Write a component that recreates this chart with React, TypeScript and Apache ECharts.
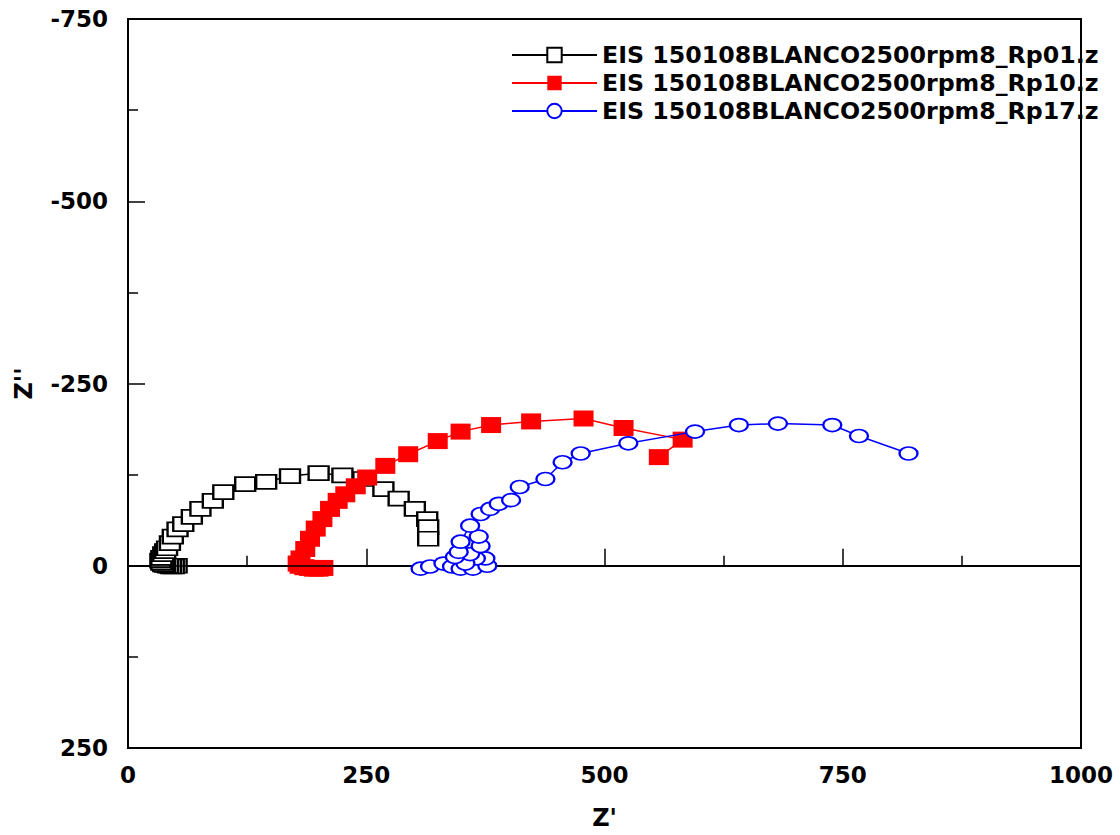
import React, { useEffect, useRef } from "react";
import * as echarts from "echarts";

const seriesNames = [
  "EIS 150108BLANCO2500rpm8_Rp01.z",
  "EIS 150108BLANCO2500rpm8_Rp10.z",
  "EIS 150108BLANCO2500rpm8_Rp17.z",
];

// [Z', Z''] pairs
const rp01: number[][] = [
  [51, 0], [48, 1], [45, 1], [42, 0], [39, -1], [37, -2], [35, -4], [34, -7], [35, -11],
  [37, -16], [39, -20], [41, -24], [44, -31], [47, -40], [52, -50], [58, -57], [67, -67],
  [76, -78], [89, -89], [100, -101], [123, -112], [145, -115], [170, -123], [200, -127],
  [225, -124], [247, -119], [268, -105], [284, -92], [301, -78], [314, -64], [315, -53],
  [315, -37],
];

const rp10: number[][] = [
  [205, 3], [200, 4], [195, 4], [190, 3], [185, 2], [180, 0], [178, -3], [181, -10],
  [186, -23], [191, -37], [197, -51], [204, -64], [212, -78], [220, -89], [228, -98],
  [239, -109], [251, -121], [270, -137], [294, -153], [325, -171], [349, -184], [381, -193],
  [423, -198], [478, -202], [520, -189], [582, -173], [557, -149],
];

const rp17: number[][] = [
  [307, 4], [317, 1], [331, -3], [340, 1], [349, 4], [362, 4], [377, 0], [375, -10],
  [365, -10], [354, -3], [359, -16], [343, -12], [347, -19], [370, -27], [368, -40],
  [349, -33], [359, -55], [370, -71], [380, -78], [389, -85], [402, -90], [411, -108],
  [438, -119], [456, -142], [475, -154], [525, -168], [595, -184], [641, -193], [682, -195],
  [739, -193], [767, -178], [819, -154],
];

const xMin = 0, xMax = 1000, xStep = 250;
const yMin = -750, yMax = 250, yStep = 250;

const FONT = "DejaVu Sans";
const ellipse = "path://M0,50 A50,50 0 1 1 100,50 A50,50 0 1 1 0,50 Z";

export default function App() {
  const ref = useRef<HTMLDivElement>(null);
  useEffect(() => {
    if (!ref.current) return;
    const chart = echarts.init(ref.current, undefined, { renderer: "svg" });
    const axisCommon = {
      axisLine: { show: true, lineStyle: { color: "#000", width: 2 } },
      axisTick: { show: true, inside: true, length: 17, lineStyle: { color: "#000", width: 1.5 } },
      minorTick: { show: true, splitNumber: 2, length: 10, lineStyle: { color: "#000", width: 1.5 } },
      splitLine: { show: false },
      axisLabel: {
        color: "#000", fontFamily: FONT, fontWeight: "bold", fontSize: 23,
        formatter: (v: number) => String(v),
      },
      nameTextStyle: { color: "#000", fontFamily: FONT, fontWeight: "bold", fontSize: 24 },
    };
    chart.setOption({
      animation: false,
      backgroundColor: "#fff",
      grid: {
        left: 128, right: 39, top: 19, bottom: 85,
        show: true, borderColor: "#000", borderWidth: 2, backgroundColor: "transparent",
      },
      legend: {
        show: true,
        orient: "vertical",
        left: 506,
        top: 38,
        itemWidth: 85,
        itemHeight: 18,
        itemGap: 4,
        data: seriesNames,
        textStyle: { color: "#000", fontFamily: FONT, fontWeight: "bold", fontSize: 23.7, lineHeight: 23 },
      },
      xAxis: {
        type: "value", min: xMin, max: xMax, interval: xStep,
        name: "Z'", nameLocation: "middle", nameGap: 58,
        ...axisCommon,
        axisLabel: { ...axisCommon.axisLabel, margin: 15 },
      },
      yAxis: {
        type: "value", min: yMin, max: yMax, interval: yStep, inverse: true,
        name: "Z''", nameLocation: "middle", nameGap: 92, nameRotate: 90,
        ...axisCommon,
        axisLabel: { ...axisCommon.axisLabel, margin: 20 },
      },
      series: [
        {
          name: seriesNames[0], type: "line", data: rp01,
          symbol: "rect", symbolSize: [20, 14],
          lineStyle: { color: "#000", width: 1.5 },
          itemStyle: { color: "#fff", borderColor: "#000", borderWidth: 2 },
          markLine: {
            silent: true, symbol: ["none", "none"], label: { show: false },
            lineStyle: { color: "#000", width: 1.5, type: "solid" },
            data: [{ yAxis: 0 }],
          },
          z: 3,
        },
        {
          name: seriesNames[1], type: "line", data: rp10,
          symbol: "rect", symbolSize: [20, 16],
          lineStyle: { color: "#f00", width: 1.5 },
          itemStyle: { color: "#f00", borderColor: "#f00", borderWidth: 0 },
          z: 4,
        },
        {
          name: seriesNames[2], type: "line", data: rp17,
          symbol: ellipse, symbolSize: [18, 13],
          lineStyle: { color: "#00f", width: 1.5 },
          itemStyle: { color: "#fff", borderColor: "#00f", borderWidth: 2 },
          z: 5,
        },
      ],
    });
    return () => chart.dispose();
  }, []);
  return (
    <div
      ref={ref}
      style={{ position: "fixed", left: 0, top: 0, width: 1120, height: 835, background: "#fff" }}
    />
  );
}
